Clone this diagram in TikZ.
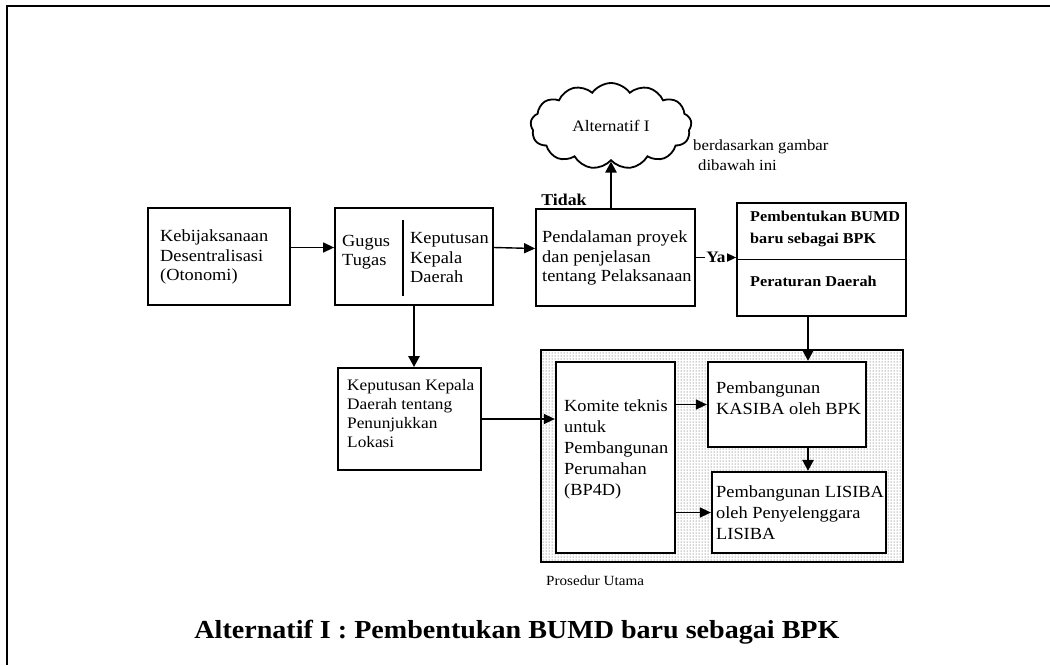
\documentclass[tikz,border=0pt]{standalone}
\usepackage{fontspec}
\setmainfont[FakeStretch=1.08]{Liberation Serif}
\usetikzlibrary{arrows.meta,shapes.symbols,patterns}
\newcommand\bxfont{\fontsize{17}{19.5}\selectfont}
\begin{document}
\begin{tikzpicture}[x=1pt,y=-1pt,
  box/.style={draw, line width=1.8pt, inner sep=0pt, anchor=center},
  plain/.style={inner sep=0pt, align=left, anchor=west, font=\bxfont},
  conn/.style={line width=1.4pt, -{Triangle[length=11pt,width=10pt]}},
  connb/.style={line width=2.5pt, -{Triangle[length=11pt,width=11pt]}},
  rule/.style={line width=2pt}
]
\useasboundingbox (0,0) rectangle (1050,665);

% page frame
\draw[rule] (7,665) -- (7,6) -- (1050,6);

% upper row
\node[box, minimum width=142, minimum height=97] (keb) at (219,256.5) {};
\node[plain] (kebT) at (160,257) {Kebijaksanaan\\Desentralisasi\\(Otonomi)};

\node[box, minimum width=158, minimum height=97] (gugus) at (414,256.5) {};
\coordinate (gdivT) at (403,220);
\coordinate (gdivB) at (403,296);
\draw[line width=2pt] (gdivT) -- (gdivB);
\node[plain] (gugusL) at (342,252) {Gugus\\Tugas};
\node[plain] (gugusR) at (410,258) {Keputusan\\Kepala\\Daerah};

\node[box, minimum width=159, minimum height=97] (pend) at (615.5,257.5) {};
\node[plain] (pendT) at (542,258) {Pendalaman proyek\\dan penjelasan\\tentang Pelaksanaan};

\node[box, minimum width=169, minimum height=113] (pemb) at (821.5,259.5) {};
\draw[line width=1.3pt] (pemb.west) -- (pemb.east);
\node[plain, font=\bfseries\fontsize{15}{22}\selectfont] (pembT) at (750,229)
  {Pembentukan BUMD\\baru sebagai BPK};
\node[plain, font=\bfseries\fontsize{15}{18}\selectfont] (perda) at (750,281) {Peraturan Daerah};

% alternative branch
\node[cloud, draw, line width=1.8pt, cloud puffs=13, cloud puff arc=110, aspect=1.9,
  minimum width=161, minimum height=86, inner sep=0pt,
  font=\fontsize{16}{18}\selectfont] (alt) at (611,126) {Alternatif I};
\node[plain, font=\fontsize{15.5}{20}\selectfont] (note) at (693,155)
  {berdasarkan gambar\\\hspace*{5pt}dibawah ini};
\node[font=\bfseries\fontsize{16.5}{18}\selectfont, inner sep=0pt] (tidak) at (564,200) {Tidak};

% lower row
\node[box, minimum width=143, minimum height=102] (kep) at (409.5,419) {};
\node[plain, font=\fontsize{16}{19}\selectfont] (kepT) at (347,414)
  {Keputusan Kepala\\Daerah tentang\\Penunjukkan\\Lokasi};

\node[draw, line width=2.6pt, pattern=dots, pattern color=black!75,
  minimum width=362, minimum height=212, inner sep=0pt] (pros) at (722,456) {};
\node[box, line width=2.2pt, fill=white, minimum width=119, minimum height=191]
  (komite) at (615.5,457.5) {};
\node[plain, font=\fontsize{17}{21}\selectfont] (komiteT) at (564,449)
  {Komite teknis\\untuk\\Pembangunan\\Perumahan\\(BP4D)};
\node[box, line width=2.2pt, fill=white, minimum width=158, minimum height=85]
  (kasiba) at (787,404.5) {};
\node[plain, font=\fontsize{17}{21}\selectfont] (kasibaT) at (716,398)
  {Pembangunan\\KASIBA oleh BPK};
\node[box, line width=2.2pt, fill=white, minimum width=174, minimum height=81]
  (lisiba) at (799,512.5) {};
\node[plain, font=\fontsize{17}{21}\selectfont] (lisibaT) at (716,513)
  {Pembangunan LISIBA\\oleh Penyelenggara\\LISIBA};
\node[plain, font=\fontsize{14}{16}\selectfont] (prosT) at (546,581) {Prosedur Utama};

% connectors
\coordinate (drop) at (808,0);
\draw[conn] ([yshift=9pt]keb.east) -- ([yshift=9pt]gugus.west);
\draw[conn] ([yshift=9pt]gugus.east) -- ([yshift=9pt]pend.west);
\draw[connb] (pend.north -| alt.south) -- (alt.south);
\draw[conn] (pend.east) -- (pend.east -| pemb.west)
  node[midway, fill=white, inner sep=1pt, font=\bfseries\fontsize{16}{18}\selectfont] (ya) {Ya};
\draw[connb] (gugus.south) -- (gugus.south |- kep.north);
\draw[conn] (kep.east) -- (kep.east -| komite.west);
\draw[conn] (komite.east |- kasiba.west) -- (kasiba.west);
\draw[conn] (komite.east |- lisiba.west) -- (lisiba.west);
\draw[connb] (pemb.south -| drop) -- (kasiba.north -| drop);
\draw[connb] (kasiba.south -| drop) -- (lisiba.north -| drop);

% caption
\node[font=\bfseries\fontsize{26}{30}\selectfont, inner sep=0pt] (title) at (517,632)
  {Alternatif I : Pembentukan BUMD baru sebagai BPK};
\end{tikzpicture}
\end{document}
